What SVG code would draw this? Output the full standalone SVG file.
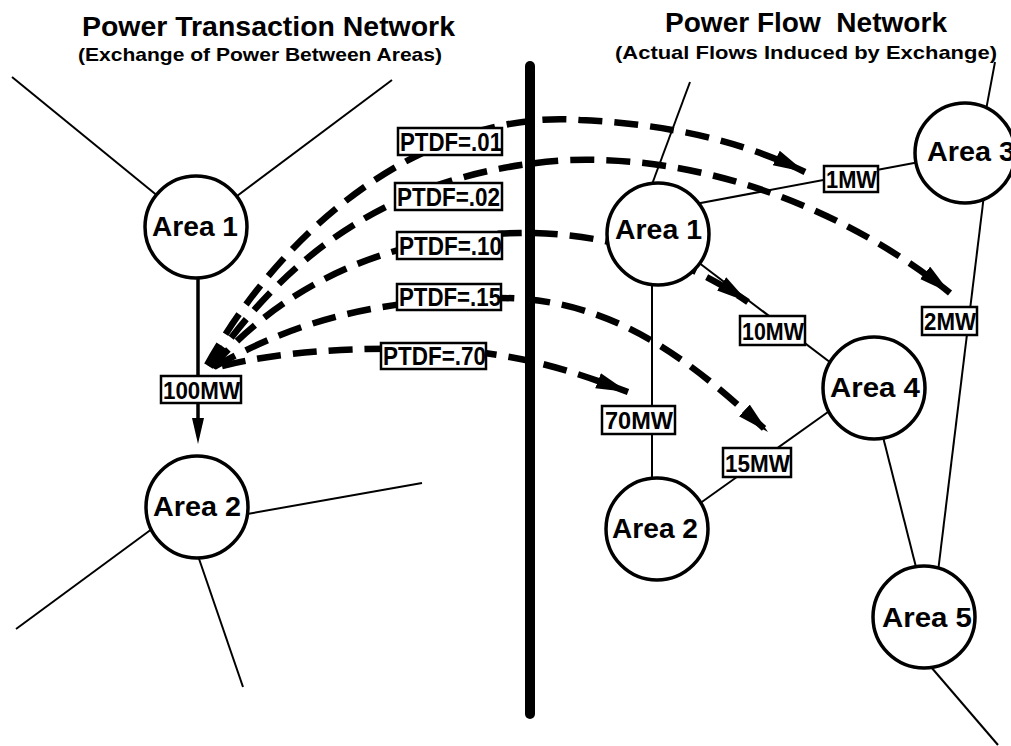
<svg xmlns="http://www.w3.org/2000/svg" width="1011" height="746" viewBox="0 0 1011 746">
  <style>
    .title { font-family: "Liberation Sans", Arial, sans-serif; font-weight: bold; font-size: 27px; fill: #000; white-space: pre; }
    .sub { font-family: "Liberation Sans", Arial, sans-serif; font-weight: bold; font-size: 19px; fill: #000; }
    .area circle { fill: #fff; stroke: #000; stroke-width: 3.5; }
    .area text { font-family: "Liberation Sans", Arial, sans-serif; font-weight: bold; font-size: 27px; fill: #000; }
    .tie { stroke: #000; stroke-width: 2; fill: none; }
    .flow { stroke: #000; stroke-width: 6.5; fill: none; stroke-dasharray: 24 12; marker-end: url(#head); }
    .lbl rect { fill: #fff; stroke: #000; stroke-width: 2.5; }
    .lbl text { font-family: "Liberation Sans", Arial, sans-serif; font-weight: bold; font-size: 23px; fill: #000; }
    .lbl text.ptdf { font-size: 25px; }
  </style>
  <defs>
    <marker id="head" markerUnits="userSpaceOnUse" markerWidth="34" markerHeight="18" refX="32" refY="8" orient="auto">
      <path d="M0,0 L32,8 L0,16 z" fill="#000"/>
    </marker>
  </defs>
  <rect width="1011" height="746" fill="#fff"/>

  <!-- headings -->
  <text class="title" x="82" y="36" textLength="373" lengthAdjust="spacingAndGlyphs">Power Transaction Network</text>
  <text class="sub" x="78" y="61" textLength="364" lengthAdjust="spacingAndGlyphs">(Exchange of Power Between Areas)</text>
  <text class="title" x="665" y="32" textLength="282" lengthAdjust="spacingAndGlyphs" xml:space="preserve">Power Flow  Network</text>
  <text class="sub" x="615" y="59" textLength="382" lengthAdjust="spacingAndGlyphs">(Actual Flows Induced by Exchange)</text>

  <!-- separator between the two networks -->
  <line x1="530" y1="66" x2="530" y2="714" stroke="#000" stroke-width="10" stroke-linecap="round"/>

  <g id="connectors">
    <!-- transaction network ties -->
    <line class="tie" x1="12" y1="77" x2="170" y2="206"/>
    <line class="tie" x1="392" y1="80" x2="225" y2="205"/>
    <line class="tie" x1="422" y1="483" x2="230" y2="517"/>
    <line class="tie" x1="16" y1="629" x2="160" y2="523"/>
    <line class="tie" x1="243" y1="687" x2="196" y2="550"/>
    <!-- 100MW transaction -->
    <line x1="198" y1="270" x2="198" y2="422" stroke="#000" stroke-width="3.5"/>
    <path d="M192,418 L204,418 L198,444 z" fill="#000"/>

    <!-- flow network ties -->
    <line class="tie" x1="690" y1="82" x2="648" y2="195"/>
    <line class="tie" x1="690" y1="205" x2="930" y2="160"/>
    <line class="tie" x1="995" y1="62" x2="986" y2="110"/>
    <line class="tie" x1="984" y1="195" x2="937" y2="580"/>
    <line class="tie" x1="690" y1="256" x2="835" y2="366"/>
    <line class="tie" x1="652" y1="270" x2="652" y2="490"/>
    <line class="tie" x1="692" y1="509" x2="835" y2="407"/>
    <line class="tie" x1="880" y1="425" x2="918" y2="575"/>
    <line class="tie" x1="925" y1="660" x2="998" y2="745"/>

    <!-- distribution of the 100MW exchange -->
    <path class="flow" d="M207,365 C300,200 450,110 580,120 C690,125 760,150 805,172"/>
    <path class="flow" d="M210,367 C290,250 400,170 570,160 C720,155 860,220 950,293"/>
    <path class="flow" d="M212,367 C280,290 380,235 520,233 C600,232 680,255 748,302"/>
    <path class="flow" d="M214,367 C280,330 360,298 500,298 C620,298 700,370 768,432"/>
    <path class="flow" d="M222,366 C280,352 350,346 450,350 C520,354 570,370 628,392"/>
  </g>

  <!-- transaction network areas -->
  <g id="t-area1" class="area">
    <circle cx="196" cy="227" r="51"/>
    <text x="152" y="236" textLength="86" lengthAdjust="spacingAndGlyphs">Area 1</text>
  </g>
  <g id="t-area2" class="area">
    <circle cx="197" cy="507" r="51"/>
    <text x="153" y="516" textLength="88" lengthAdjust="spacingAndGlyphs">Area 2</text>
  </g>

  <!-- flow network areas -->
  <g id="f-area1" class="area">
    <circle cx="658" cy="234" r="51"/>
    <text x="615" y="239" textLength="87" lengthAdjust="spacingAndGlyphs">Area 1</text>
  </g>
  <g id="f-area2" class="area">
    <circle cx="657" cy="529" r="51"/>
    <text x="612" y="538" textLength="86" lengthAdjust="spacingAndGlyphs">Area 2</text>
  </g>
  <g id="f-area3" class="area">
    <circle cx="965" cy="153" r="50"/>
    <text x="927" y="161" textLength="88" lengthAdjust="spacingAndGlyphs">Area 3</text>
  </g>
  <g id="f-area4" class="area">
    <circle cx="874" cy="388" r="51"/>
    <text x="830" y="397" textLength="90" lengthAdjust="spacingAndGlyphs">Area 4</text>
  </g>
  <g id="f-area5" class="area">
    <circle cx="924" cy="617" r="51"/>
    <text x="882" y="627" textLength="90" lengthAdjust="spacingAndGlyphs">Area 5</text>
  </g>

  <!-- line labels -->
  <g id="lbl-100mw" class="lbl">
    <rect x="161" y="376" width="80" height="27"/>
    <text x="163" y="399" textLength="77" lengthAdjust="spacingAndGlyphs">100MW</text>
  </g>
  <g id="lbl-ptdf01" class="lbl">
    <rect x="398" y="128" width="104" height="27"/>
    <text class="ptdf" x="400" y="151" textLength="102" lengthAdjust="spacingAndGlyphs">PTDF=.01</text>
  </g>
  <g id="lbl-ptdf02" class="lbl">
    <rect x="395" y="183" width="107" height="27"/>
    <text class="ptdf" x="397" y="206" textLength="103" lengthAdjust="spacingAndGlyphs">PTDF=.02</text>
  </g>
  <g id="lbl-ptdf10" class="lbl">
    <rect x="397" y="232" width="105" height="27"/>
    <text class="ptdf" x="399" y="255" textLength="103" lengthAdjust="spacingAndGlyphs">PTDF=.10</text>
  </g>
  <g id="lbl-ptdf15" class="lbl">
    <rect x="397" y="284" width="104" height="26"/>
    <text class="ptdf" x="399" y="306" textLength="102" lengthAdjust="spacingAndGlyphs">PTDF=.15</text>
  </g>
  <g id="lbl-ptdf70" class="lbl">
    <rect x="381" y="343" width="105" height="26"/>
    <text class="ptdf" x="383" y="365" textLength="103" lengthAdjust="spacingAndGlyphs">PTDF=.70</text>
  </g>
  <g id="lbl-1mw" class="lbl">
    <rect x="824" y="166" width="54" height="26"/>
    <text x="826" y="188" textLength="51" lengthAdjust="spacingAndGlyphs">1MW</text>
  </g>
  <g id="lbl-2mw" class="lbl">
    <rect x="922" y="307" width="55" height="28"/>
    <text x="924" y="330" textLength="52" lengthAdjust="spacingAndGlyphs">2MW</text>
  </g>
  <g id="lbl-10mw" class="lbl">
    <rect x="740" y="316" width="65" height="29"/>
    <text x="742" y="340" textLength="62" lengthAdjust="spacingAndGlyphs">10MW</text>
  </g>
  <g id="lbl-70mw" class="lbl">
    <rect x="602" y="406" width="73" height="28"/>
    <text x="605" y="429" textLength="68" lengthAdjust="spacingAndGlyphs">70MW</text>
  </g>
  <g id="lbl-15mw" class="lbl">
    <rect x="723" y="448" width="68" height="29"/>
    <text x="725" y="472" textLength="65" lengthAdjust="spacingAndGlyphs">15MW</text>
  </g>
</svg>
